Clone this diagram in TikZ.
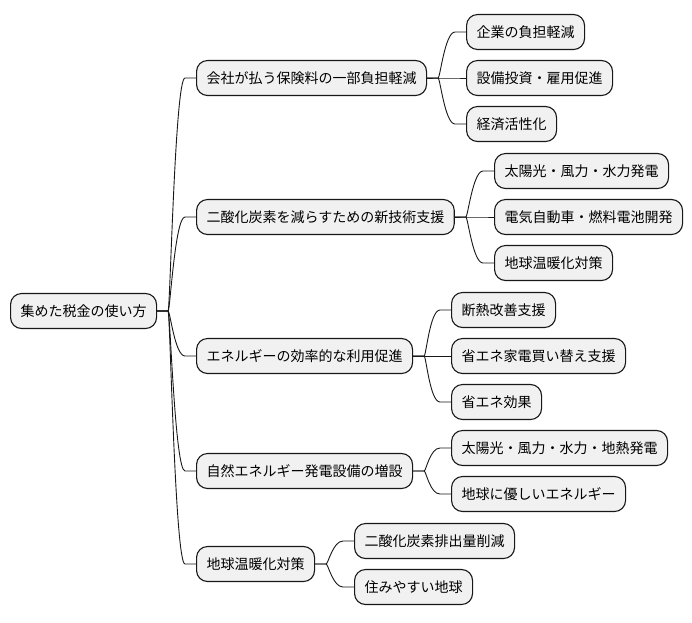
\documentclass[tikz,border=0pt]{standalone}
\usepackage{fontspec}
\setmainfont{Noto Sans CJK JP}
\usepackage{tikz}
\definecolor{boxfill}{HTML}{F1F1F1}
\definecolor{boxline}{HTML}{181818}
\tikzstyle{node_topic} = [draw=boxline, fill=boxfill, line width=1.1pt, rounded corners=11pt, anchor=west, inner xsep=10pt, inner ysep=0pt, minimum height=35pt, font=\fontsize{14pt}{16pt}\selectfont]
\tikzstyle{edge_normal} = [draw=boxline, line width=0.9pt]
\newcommand{\branch}[2]{\draw[edge_normal] (#1.east) -- ++(11pt,0) .. controls +(2pt,0) and +(-10pt,0) .. ([xshift=-11pt]#2.west) -- (#2.west);}

\begin{document}
\begin{tikzpicture}[x=1pt, y=-1pt]
		\useasboundingbox (0,0) rectangle (692,622);
		\node (R) at (10,311) [node_topic] {集めた税金の使い方};

		\node (A) at (196,78) [node_topic] {会社が払う保険料の一部負担軽減};
		\node (B) at (196,217) [node_topic] {二酸化炭素を減らすための新技術支援};
		\node (C) at (196,356) [node_topic] {エネルギーの効率的な利用促進};
		\node (D) at (196,471) [node_topic] {自然エネルギー発電設備の増設};
		\node (E) at (196,564) [node_topic] {地球温暖化対策};

		\node (A1) at (466,32) [node_topic] {企業の負担軽減};
		\node (A2) at (466,78) [node_topic] {設備投資・雇用促進};
		\node (A3) at (466,124) [node_topic] {経済活性化};

		\node (B1) at (494,171) [node_topic] {太陽光・風力・水力発電};
		\node (B2) at (494,217) [node_topic] {電気自動車・燃料電池開発};
		\node (B3) at (494,263) [node_topic] {地球温暖化対策};

		\node (C1) at (451,310) [node_topic] {断熱改善支援};
		\node (C2) at (451,356) [node_topic] {省エネ家電買い替え支援};
		\node (C3) at (451,402) [node_topic] {省エネ効果};

		\node (D1) at (451,448) [node_topic] {太陽光・風力・水力・地熱発電};
		\node (D2) at (451,494) [node_topic] {地球に優しいエネルギー};

		\node (E1) at (354,541) [node_topic] {二酸化炭素排出量削減};
		\node (E2) at (354,587) [node_topic] {住みやすい地球};

		\foreach \c in {A,B,C,D,E} {\branch{R}{\c}}
		\foreach \c in {A1,A2,A3} {\branch{A}{\c}}
		\foreach \c in {B1,B2,B3} {\branch{B}{\c}}
		\foreach \c in {C1,C2,C3} {\branch{C}{\c}}
		\foreach \c in {D1,D2} {\branch{D}{\c}}
		\foreach \c in {E1,E2} {\branch{E}{\c}}
		\end{tikzpicture}
\end{document}
